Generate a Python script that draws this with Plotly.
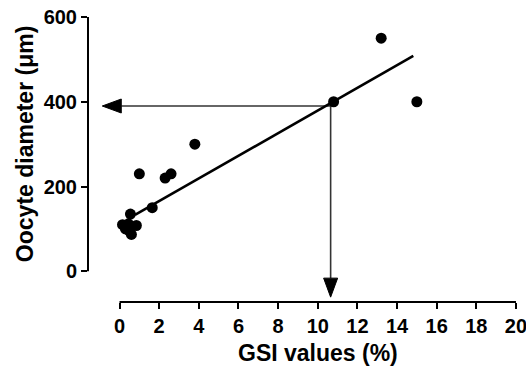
import plotly.graph_objects as go

# ---- data ----
gsi = [0.15, 0.3, 0.45, 0.55, 0.6, 0.85, 0.5, 1.0, 1.65, 2.3, 2.6, 3.8, 10.8, 13.2, 15.0]
diameter = [110, 100, 112, 135, 87, 108, 95, 230, 150, 220, 230, 300, 400, 550, 400]

fit_gsi = [0.78, 14.82]
fit_diameter = [133, 508]

read_gsi = 10.65        # vertical reading line
read_diameter = 390     # horizontal reading line
arrow_tip_gsi = -0.87   # tip of the horizontal arrow
arrow_tip_diam = -61    # tip of the vertical arrow

x_ticks = list(range(0, 21, 2))
y_ticks = [0, 200, 400, 600]
x_labels = [str(v) for v in x_ticks]
y_labels = [str(v) for v in y_ticks]

# ---- layout geometry ----
W, H = 526, 370
M = dict(l=88, r=10, t=17, b=68)
X_RANGE = [-1.59, 20.001]
Y_RANGE = [-72.5, 600.001]
pw = W - M["l"] - M["r"]
ph = H - M["t"] - M["b"]
dx = (X_RANGE[1] - X_RANGE[0]) / pw   # data units per pixel
dy = (Y_RANGE[1] - Y_RANGE[0]) / ph

HEAD_LEN = 19
HEAD_HALF = 7
ARROW_COLOR = "#333333"
FONT = "Liberation Sans, Arial, sans-serif"

fig = go.Figure()

# reading lines
h_base = arrow_tip_gsi + HEAD_LEN * dx
v_base = arrow_tip_diam + HEAD_LEN * dy
fig.add_trace(go.Scatter(x=[read_gsi, h_base], y=[read_diameter, read_diameter],
                         mode="lines", line=dict(color=ARROW_COLOR, width=1.6),
                         hoverinfo="skip", showlegend=False))
fig.add_trace(go.Scatter(x=[read_gsi, read_gsi], y=[read_diameter, v_base],
                         mode="lines", line=dict(color=ARROW_COLOR, width=1.6),
                         hoverinfo="skip", showlegend=False))
# arrow heads
fig.add_trace(go.Scatter(
    x=[arrow_tip_gsi, h_base, h_base, arrow_tip_gsi],
    y=[read_diameter, read_diameter + HEAD_HALF * dy, read_diameter - HEAD_HALF * dy, read_diameter],
    mode="lines", fill="toself", fillcolor="black", line=dict(color="black", width=1),
    hoverinfo="skip", showlegend=False))
fig.add_trace(go.Scatter(
    x=[read_gsi, read_gsi - HEAD_HALF * dx, read_gsi + HEAD_HALF * dx, read_gsi],
    y=[arrow_tip_diam, v_base, v_base, arrow_tip_diam],
    mode="lines", fill="toself", fillcolor="black", line=dict(color="black", width=1),
    hoverinfo="skip", showlegend=False))

# regression line
fig.add_trace(go.Scatter(x=fit_gsi, y=fit_diameter, mode="lines",
                         line=dict(color="black", width=2.6), showlegend=False))
# points
fig.add_trace(go.Scatter(x=gsi, y=diameter, mode="markers",
                         marker=dict(color="black", size=11, line=dict(width=0)),
                         showlegend=False))

axis_common = dict(showgrid=False, zeroline=False, showline=False, ticks="outside",
                   ticklen=6, tickwidth=2, tickcolor="black", automargin=False,
                   ticklabeloverflow="allow",
                   tickfont=dict(family=FONT, size=20, color="black", weight="bold"))

fig.update_layout(
    width=W, height=H, margin=M,
    paper_bgcolor="white", plot_bgcolor="white",
    xaxis=dict(range=X_RANGE, tickvals=x_ticks, ticktext=["<b>%s</b>" % t for t in x_labels],
               **axis_common),
    yaxis=dict(range=Y_RANGE, tickvals=y_ticks, ticktext=["<b>%s</b>" % t for t in y_labels],
               **axis_common),
    shapes=[
        dict(type="line", xref="paper", x0=0, x1=0, yref="y", y0=y_ticks[0], y1=y_ticks[-1],
             line=dict(color="black", width=2)),
        dict(type="line", yref="paper", y0=0, y1=0, xref="x", x0=x_ticks[0], x1=x_ticks[-1],
             line=dict(color="black", width=2)),
    ],
    annotations=[
        dict(text="<b>GSI values (%)</b>", xref="x", x=(x_ticks[0] + x_ticks[-1]) / 2,
             yref="paper", y=0, yanchor="middle", yshift=-51, showarrow=False,
             font=dict(family=FONT, size=23, color="black")),
        dict(text="<b>Oocyte diameter (μm)</b>", xref="paper", x=0, xanchor="center", xshift=-63,
             yref="y", y=(y_ticks[0] + y_ticks[-1]) / 2, textangle=-90, showarrow=False,
             font=dict(family=FONT, size=23, color="black")),
    ],
)

fig.write_html("out.html", config={"displayModeBar": False},
               post_script="document.body.style.margin='0';document.body.style.overflow='hidden';")
